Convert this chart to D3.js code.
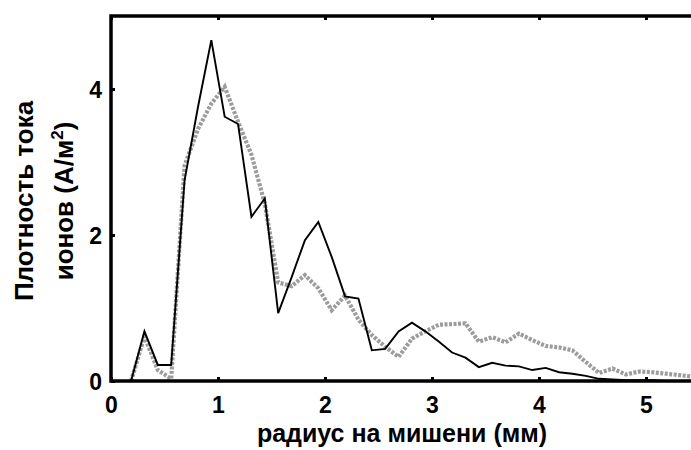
<!DOCTYPE html>
<html>
<head>
<meta charset="utf-8">
<script src="https://cdn.jsdelivr.net/npm/d3@7"></script>
<style>
  body { margin: 0; background: #fff; }
  text { font-family: "Liberation Sans", Arial, sans-serif; font-weight: bold; }
</style>
</head>
<body>
<div id="chart"></div>
<script>
// Data: radius (mm) sampled every 1/8 mm
const radius = [0.1875, 0.3125, 0.4375, 0.5625, 0.6875, 0.8125, 0.9375, 1.0625, 1.1875, 1.3125,
  1.4375, 1.5625, 1.6875, 1.8125, 1.9375, 2.0625, 2.1875, 2.3125, 2.4375, 2.5625,
  2.6875, 2.8125, 2.9375, 3.0625, 3.1875, 3.3125, 3.4375, 3.5625, 3.6875, 3.8125,
  3.9375, 4.0625, 4.1875, 4.3125, 4.4375, 4.5625, 4.6875, 4.8125, 4.9375, 5.0625,
  5.1875, 5.3125, 5.4375]
// black solid curve
const densityA = [0, 0.68, 0.22, 0.22, 2.75, 3.75, 4.67, 3.62, 3.52, 2.25,
  2.5, 0.93, 1.42, 1.93, 2.18, 1.70, 1.16, 1.13, 0.42, 0.44,
  0.68, 0.80, 0.68, 0.54, 0.39, 0.32, 0.19, 0.25, 0.21, 0.20,
  0.15, 0.18, 0.12, 0.10, 0.07, 0.03, 0.02, 0.01, 0.01, 0.01,
  0, 0, 0]
// grey dotted curve
const densityB = [0, 0.61, 0.15, 0.03, 2.95, 3.45, 3.80, 4.03, 3.55, 3.10,
  2.43, 1.35, 1.30, 1.45, 1.27, 0.97, 1.17, 0.84, 0.63, 0.47,
  0.33, 0.58, 0.68, 0.77, 0.78, 0.79, 0.54, 0.60, 0.53, 0.65,
  0.56, 0.48, 0.46, 0.42, 0.26, 0.11, 0.17, 0.09, 0.13, 0.12,
  0.10, 0.08, 0.06]
const xTicks = [0, 1, 2, 3, 4, 5]
const yTicks = [0, 2, 4]

const dimensions = {
  width: 691,
  height: 450,
  left: 111,
  top: 16,
  bottom: 381
}

const svg = d3.select('#chart')
  .append('svg')
  .attr('width', dimensions.width)
  .attr('height', dimensions.height)

const xScale = d3.scaleLinear()
  .domain([0, 1])
  .range([dimensions.left, dimensions.left + 107])
const yScale = d3.scaleLinear()
  .domain([0, 5])
  .range([dimensions.bottom, dimensions.top])

const rows = radius.map((r, i) => ({ r, a: densityA[i], b: densityB[i] }))

svg.append('clipPath').attr('id', 'plot')
  .append('rect')
  .attr('x', dimensions.left)
  .attr('y', dimensions.top)
  .attr('width', dimensions.width - dimensions.left)
  .attr('height', dimensions.bottom - dimensions.top)

const plot = svg.append('g').attr('clip-path', 'url(#plot)')

const lineB = d3.line().x(d => xScale(d.r)).y(d => yScale(d.b))
const lineA = d3.line().x(d => xScale(d.r)).y(d => yScale(d.a))

plot.append('path')
  .datum(rows)
  .attr('d', lineB)
  .attr('fill', 'none')
  .attr('stroke', '#9c9c9c')
  .attr('stroke-width', 4.2)
  .attr('stroke-dasharray', '3,1.5')

plot.append('path')
  .datum(rows)
  .attr('d', lineA)
  .attr('fill', 'none')
  .attr('stroke', '#000')
  .attr('stroke-width', 1.9)

// Axes
const xAxis = d3.axisBottom(xScale).tickValues(xTicks).tickSizeInner(-4).tickSizeOuter(0).tickFormat(d3.format('d'))
const yAxis = d3.axisLeft(yScale).tickValues(yTicks).tickSizeInner(-4).tickSizeOuter(0).tickPadding(9).tickFormat(d3.format('d'))
const topAxis = d3.axisTop(xScale).tickValues(xTicks).tickSizeInner(-4).tickSizeOuter(0).tickFormat('')

const gx = svg.append('g')
  .attr('transform', `translate(0, ${dimensions.bottom})`)
  .call(xAxis)
const gy = svg.append('g')
  .attr('transform', `translate(${dimensions.left}, 0)`)
  .call(yAxis)
const gt = svg.append('g')
  .attr('transform', `translate(0, ${dimensions.top})`)
  .call(topAxis)

;[gx, gy, gt].forEach(g => {
  g.select('.domain').remove()
  g.selectAll('.tick line').attr('stroke', '#000').attr('stroke-width', 3)
  g.selectAll('.tick text')
    .attr('fill', '#000')
    .style('font-size', '23px')
    .style('font-family', '"Liberation Sans", Arial, sans-serif')
    .style('font-weight', 'bold')
})
gx.selectAll('.tick text').attr('y', 32).attr('dy', 0)
gy.selectAll('.tick text').attr('dy', '0.36em')

// frame lines
svg.append('path')
  .attr('d', `M${dimensions.left},${dimensions.bottom}H${dimensions.width}M${dimensions.left},${dimensions.bottom}V${dimensions.top}H${dimensions.width}`)
  .attr('fill', 'none')
  .attr('stroke', '#000')
  .attr('stroke-width', 3.5)
  .attr('stroke-linecap', 'square')

// axis titles
svg.append('text')
  .attr('x', 402)
  .attr('y', 442)
  .attr('text-anchor', 'middle')
  .style('font-size', '25px')
  .text('радиус на мишени (мм)')

const yTitle = svg.append('g')
  .attr('transform', 'translate(0, 201) rotate(-90)')
yTitle.append('text')
  .attr('x', 0)
  .attr('y', 33)
  .attr('text-anchor', 'middle')
  .style('font-size', '26px')
  .text('Плотность тока')
const t2 = yTitle.append('text')
  .attr('x', 0)
  .attr('y', 73)
  .attr('text-anchor', 'middle')
  .style('font-size', '26px')
t2.append('tspan').text('ионов (А/м')
t2.append('tspan').attr('dy', -10).style('font-size', '17px').text('2')
t2.append('tspan').attr('dy', 10).text(')')
</script>
</body>
</html>
